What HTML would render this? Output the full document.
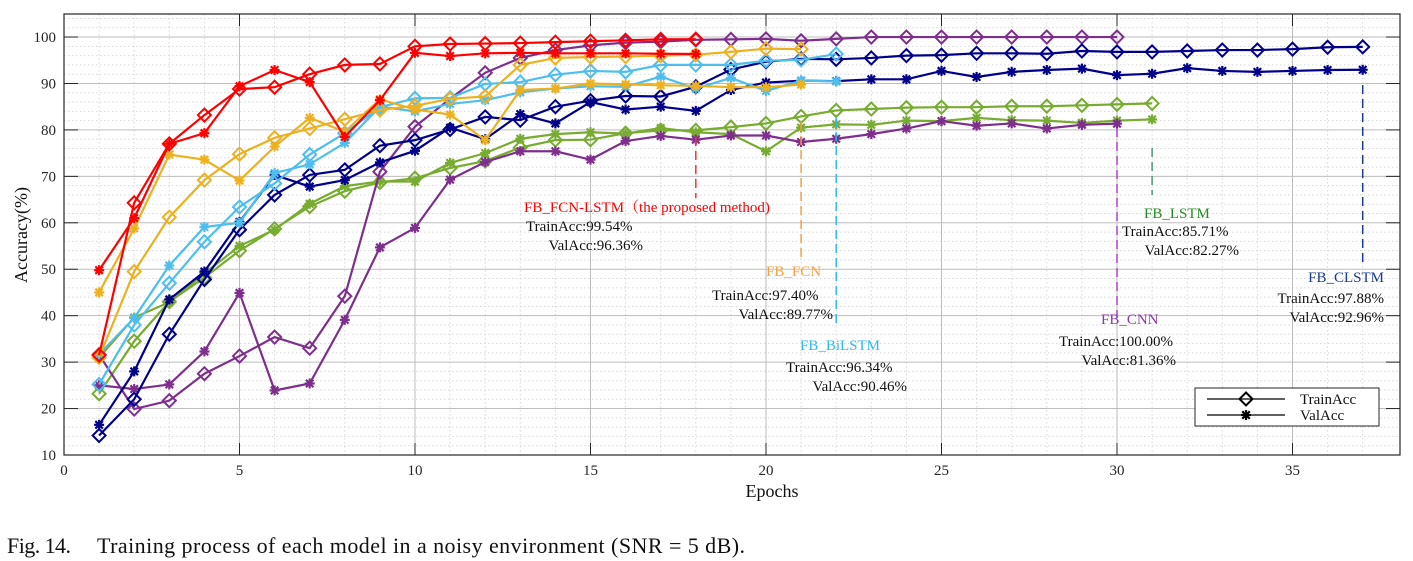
<!DOCTYPE html>
<html><head><meta charset="utf-8"><style>
body{margin:0;background:#fff;width:1413px;height:561px;overflow:hidden;font-family:"Liberation Serif",serif}
svg{position:absolute;left:0;top:0}
text{font-family:"Liberation Serif","Noto Serif CJK SC",serif}
</style></head><body>
<svg id="chart" width="1413" height="561"></svg>
<script>
const epochs=[...Array(38).keys()].map(i=>i+1);
const xTicks=[0,5,10,15,20,25,30,35];
const yTicks=[10,20,30,40,50,60,70,80,90,100];
const fcnlstmTrain=[31.5,64.3,77,83.2,88.8,89.2,92,94,94.2,98,98.5,98.6,98.7,98.9,99.1,99.3,99.5,99.54];
const fcnlstmVal=[49.8,61,77,79.3,89.4,92.9,90.3,78.5,86.4,96.6,95.9,96.5,96.6,96.5,96.5,96.5,96.4,96.36];
const fcnTrain=[31,49.5,61.2,69.2,74.8,78.3,80.3,82.3,84.3,85.2,86.7,87.2,94,95.5,95.7,95.8,96,96.2,96.8,97.5,97.4];
const fcnVal=[45,58.8,74.7,73.6,69.1,76.4,82.6,79.6,86.6,84.4,83.3,77.8,88.6,88.9,90,89.8,89.6,89.5,89.2,89.2,89.77];
const bilstmTrain=[25.2,38,47,55.9,63.4,68.5,74.7,79.3,84.9,86.8,86.9,89.9,90.3,91.9,92.7,92.5,94,94,94,94.9,95.1,96.34];
const bilstmVal=[31.7,39.5,50.8,59.1,60,70.7,72.6,77.2,85,84,85.6,86.4,88.1,88.9,89.4,89.3,91.5,88.9,91.2,88.4,90.6,90.46];
const clstmTrain=[14.2,22,36,47.8,58.5,66,70.3,71.4,76.6,77.8,80.1,82.8,82.1,85,86.3,87.3,87.2,89.3,93,94.7,95.3,95.2,95.5,96,96.1,96.5,96.5,96.4,97,96.8,96.8,97,97.2,97.2,97.4,97.8,97.88];
const clstmVal=[16.5,28,43.5,49.5,60.2,70.3,67.8,69.2,73,75.5,80.5,78,83.4,81.4,86,84.4,85,84.1,88.6,90.2,90.6,90.5,90.9,90.9,92.7,91.4,92.5,92.9,93.2,91.8,92.1,93.3,92.7,92.5,92.7,92.9,92.96];
const cnnTrain=[31.6,19.9,21.7,27.5,31.3,35.4,33,44.2,71,80.7,86.7,92.3,95.5,97.2,98.2,98.8,99,99.4,99.5,99.6,99.2,99.6,100,100,100,100,100,100,100,100];
const cnnVal=[25,24.2,25.2,32.3,44.9,23.9,25.4,39.1,54.7,58.9,69.3,73.1,75.4,75.4,73.6,77.6,78.7,77.9,78.8,78.8,77.4,78.1,79.1,80.3,81.9,80.9,81.4,80.3,81.1,81.36];
const lstmTrain=[23.2,34.5,43,48.2,54,58.7,63.5,66.8,68.7,69.6,71.8,73.3,76.2,77.8,77.9,79.3,79.9,79.9,80.6,81.4,82.9,84.2,84.5,84.8,84.9,84.9,85.1,85.1,85.3,85.5,85.71];
const lstmVal=[31,39.6,42.9,49.1,55,58.5,64.1,67.9,68.9,68.9,72.9,75,78.1,79.1,79.5,79.2,80.4,79.5,79.1,75.4,80.5,81.2,81.1,82,81.9,82.6,82.1,82,81.5,82,82.27];

const X0=64,X1=1400,Y0=455,YT=14;
const xs=e=>X0+e*35.1;
const ys=v=>Y0-(v-10)*4.644;
const svg=document.getElementById('chart');
const NS='http://www.w3.org/2000/svg';
function mk(tag,attrs,parent){const el=document.createElementNS(NS,tag);for(const k in attrs)el.setAttribute(k,attrs[k]);(parent||svg).appendChild(el);return el;}

for(let e=1;e<38;e++){if(e%5)mk('line',{x1:xs(e),x2:xs(e),y1:YT,y2:Y0,stroke:'#d8d8d8','stroke-dasharray':'1.5,2.5','stroke-width':1});}
for(let v=12;v<105;v+=2){if(v%10)mk('line',{x1:X0,x2:X1,y1:ys(v),y2:ys(v),stroke:'#d8d8d8','stroke-dasharray':'1.5,2.5','stroke-width':1});}
xTicks.forEach(t=>{
 if(t>0){mk('line',{x1:xs(t),x2:xs(t),y1:YT,y2:Y0,stroke:'#bdbdbd','stroke-width':1});}
 mk('line',{x1:xs(t),x2:xs(t),y1:Y0,y2:Y0-12,stroke:'#262626'});
 mk('line',{x1:xs(t),x2:xs(t),y1:YT,y2:YT+12,stroke:'#262626'});
 const tx=mk('text',{x:xs(t),y:Y0+20,'font-size':15,'text-anchor':'middle',fill:'#262626'});tx.textContent=t;
 
 
});
yTicks.forEach(t=>{
 mk('line',{x1:X0,x2:X1,y1:ys(t),y2:ys(t),stroke:'#bdbdbd','stroke-width':1});
 mk('line',{x1:X0,x2:X0+14,y1:ys(t),y2:ys(t),stroke:'#262626'});
 mk('line',{x1:X1-14,x2:X1,y1:ys(t),y2:ys(t),stroke:'#262626'});
 const tx=mk('text',{x:X0-8,y:ys(t)+5,'font-size':15,'text-anchor':'end',fill:'#262626'});tx.textContent=t;
 
 
});

function diamond(x,y,c,g){mk('polygon',{points:`${x},${y-6.5} ${x+6.5},${y} ${x},${y+6.5} ${x-6.5},${y}`,fill:'none',stroke:c,'stroke-width':2},g);}
function star(x,y,c,g){const r=5;[[0,r],[r,0],[r*.75,r*.75],[r*.75,-r*.75]].forEach(([a,b])=>mk('line',{x1:x-a,y1:y-b,x2:x+a,y2:y+b,stroke:c,'stroke-width':2.2},g));}
function series(data,color,marker,name){
 const g=mk('g',{});
 
 
 mk('polyline',{points:data.map((v,i)=>xs(epochs[i])+','+ys(v)).join(' '),fill:'none',stroke:color,'stroke-width':2.2},g);
 data.forEach((v,i)=>marker(xs(epochs[i]),ys(v),color,g));
}
const C={red:'#ff0000',org:'#edb120',blu:'#4dbeee',nav:'#00008b',pur:'#7e2f8e',grn:'#77ac30'};
series(lstmVal,C.grn,star,'fb-lstm-val-line');series(lstmTrain,C.grn,diamond,'fb-lstm-train-line');
series(cnnVal,C.pur,star,'fb-cnn-val-line');series(cnnTrain,C.pur,diamond,'fb-cnn-train-line');
series(clstmVal,C.nav,star,'fb-clstm-val-line');series(clstmTrain,C.nav,diamond,'fb-clstm-train-line');
series(bilstmVal,C.blu,star,'fb-bilstm-val-line');series(bilstmTrain,C.blu,diamond,'fb-bilstm-train-line');
series(fcnVal,C.org,star,'fb-fcn-val-line');series(fcnTrain,C.org,diamond,'fb-fcn-train-line');
series(fcnlstmVal,C.red,star,'fb-fcn-lstm-val-line');series(fcnlstmTrain,C.red,diamond,'fb-fcn-lstm-train-line');

[[18,137,198,'#ff3030'],[21,122,262,'#f5a040'],[22,118,325,'#30b8f0'],[30,128,318,'#b040d0'],[31,148,195,'#4a9a70'],[37,85,263,'#1a3a90']].forEach(([e,a,b,c])=>{
 const l=mk('line',{x1:xs(e),x2:xs(e),y1:a,y2:b,stroke:c,'stroke-width':1.5,'stroke-dasharray':'9,5'});
 
 
});
function txt(x,y,s,c,anchor,name){const t=mk('text',{x:x,y:y,'font-size':15,fill:c,'text-anchor':anchor||'start'});t.textContent=s;return t;}
txt(524,212,'FB_FCN-LSTM（the proposed method)','#ff0000','start','fcn-lstm-label');
txt(526,231,'TrainAcc:99.54%','#111','start','fcn-lstm-train-acc');
txt(643,250,'ValAcc:96.36%','#111','end','fcn-lstm-val-acc');
txt(766,276,'FB_FCN','#f5a040','start','fcn-label');
txt(712,300,'TrainAcc:97.40%','#111','start','fcn-train-acc');
txt(833,319,'ValAcc:89.77%','#111','end','fcn-val-acc');
txt(800,350,'FB_BiLSTM','#30b8f0','start','bilstm-label');
txt(786,372,'TrainAcc:96.34%','#111','start','bilstm-train-acc');
txt(907,391,'ValAcc:90.46%','#111','end','bilstm-val-acc');
txt(1144,218,'FB_LSTM','#228b22','start','lstm-label');
txt(1122,236,'TrainAcc:85.71%','#111','start','lstm-train-acc');
txt(1239,255,'ValAcc:82.27%','#111','end','lstm-val-acc');
txt(1101,324,'FB_CNN','#8a3aa8','start','cnn-label');
txt(1059,346,'TrainAcc:100.00%','#111','start','cnn-train-acc');
txt(1176,365,'ValAcc:81.36%','#111','end','cnn-val-acc');
txt(1384,282,'FB_CLSTM','#1a3a90','end','clstm-label');
txt(1384,303,'TrainAcc:97.88%','#111','end','clstm-train-acc');
txt(1384,322,'ValAcc:92.96%','#111','end','clstm-val-acc');

const lg=mk('g',{});


mk('rect',{x:1195,y:388,width:184,height:38,fill:'#fff',stroke:'#262626','stroke-width':1},lg);
mk('line',{x1:1207,x2:1285,y1:399,y2:399,stroke:'#000','stroke-width':1.2},lg);
diamond(1246,399,'#000',lg);
mk('line',{x1:1207,x2:1285,y1:415,y2:415,stroke:'#000','stroke-width':1.2},lg);
star(1246,415,'#000',lg);
txt(1300,404,'TrainAcc','#111','start','legend-train-acc');
txt(1300,420,'ValAcc','#111','start','legend-val-acc');

mk('rect',{x:X0,y:YT,width:X1-X0,height:Y0-YT,fill:'none',stroke:'#262626','stroke-width':1.2});
const yl=mk('text',{x:0,y:0,'font-size':18,'text-anchor':'middle',fill:'#111',transform:'translate(27,235) rotate(-90)'});yl.textContent='Accuracy(%)';

const xl=mk('text',{x:772,y:497,'font-size':18,'text-anchor':'middle',fill:'#111'});xl.textContent='Epochs';

const cap1=mk('text',{x:7,y:553,'font-size':22,fill:'#111',textLength:64,lengthAdjust:'spacing'});cap1.textContent='Fig. 14.';

const cap=mk('text',{x:97,y:553,'font-size':22,fill:'#111',textLength:648,lengthAdjust:'spacing'});cap.textContent='Training process of each model in a noisy environment (SNR = 5 dB).';

</script>
</body></html>
